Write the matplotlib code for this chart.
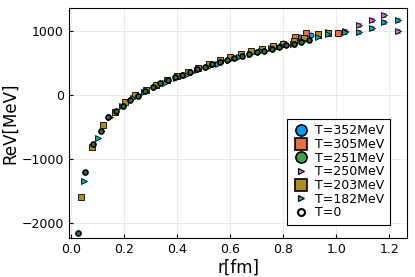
import matplotlib

matplotlib.use("Agg")
import matplotlib.pyplot as plt
from matplotlib.lines import Line2D

# T=0 (also underlies T=251MeV)
r_t0 = [0.026, 0.054, 0.083, 0.112, 0.140, 0.168, 0.196, 0.224, 0.252, 0.280, 0.308,
        0.336, 0.364, 0.392, 0.420, 0.448, 0.476, 0.504, 0.532, 0.560, 0.588, 0.616,
        0.644, 0.672, 0.700, 0.728, 0.756, 0.784, 0.812, 0.840, 0.868, 0.896]
v_t0 = [-2150, -1198, -770, -558, -350, -255, -175, -75, -20, 60, 130, 185, 235, 275,
        320, 360, 400, 440, 480, 515, 550, 580, 610, 640, 665, 695, 720, 745, 775, 800,
        830, 860]

r_203 = [0.039, 0.079, 0.121, 0.165, 0.203, 0.243, 0.282, 0.320, 0.360, 0.400, 0.440,
         0.480, 0.520, 0.560, 0.600, 0.640, 0.680, 0.720, 0.760, 0.800, 0.840, 0.880,
         0.930, 0.970]
v_203 = [-1589, -817, -469, -261, -114, 0, 85, 160, 235, 295, 365, 420, 480, 540, 590,
         645, 685, 725, 760, 800, 850, 890, 960, 975]

r_182 = [0.048, 0.102, 0.146, 0.192, 0.235, 0.275, 0.315, 0.355, 0.395, 0.435, 0.475,
         0.515, 0.555, 0.595, 0.635, 0.675, 0.715, 0.755, 0.795, 0.835, 0.875, 0.932,
         0.970, 1.033, 1.086, 1.134, 1.181, 1.232]
v_182 = [-1350, -677, -348, -172, -40, 50, 125, 190, 260, 315, 385, 430, 490, 550, 600,
         640, 690, 730, 770, 800, 850, 911, 960, 980, 984, 1047, 1141, 1177]
e_182 = [0] * 21 + [25, 25, 25, 30, 30, 30, 30]

r_250 = [0.970, 1.033, 1.086, 1.134, 1.181, 1.232]
v_250 = [985, 1000, 1099, 1167, 1245, 1005]
e_250 = [25, 25, 30, 30, 30, 30]

r_305 = [0.844, 0.886, 0.932, 1.007]
v_305 = [911, 964, 940, 970]
e_305 = [25, 25, 30, 40]

r_352 = [0.800, 0.840, 0.863, 0.905]
v_352 = [815, 850, 900, 930]

labels = ["T=352MeV", "T=305MeV", "T=251MeV", "T=250MeV", "T=203MeV", "T=182MeV", "T=0"]
colors = ["#009AFA", "#E36F47", "#3EA44E", "#C371D2", "#AC8E18", "#00A9AD", "white"]

fig = plt.figure(figsize=(4.15, 2.77), dpi=100)
ax = fig.add_axes([0.166, 0.141, 0.815, 0.830])

kw = dict(linestyle="none", markeredgecolor="black", markeredgewidth=0.6)
ax.errorbar(r_352, v_352, fmt="o", ms=3.6, color=colors[0], zorder=3, **kw)
ax.errorbar(r_305, v_305, yerr=e_305, fmt="s", ms=3.8, color=colors[1], ecolor="#555555",
            elinewidth=0.6, capsize=1.5, zorder=3, **kw)
ax.errorbar(r_t0, v_t0, fmt="o", ms=3.6, color="#2f6e3a", zorder=4, **kw)
ax.errorbar(r_250, v_250, yerr=e_250, fmt=">", ms=4.0, color=colors[3], ecolor="#555555",
            elinewidth=0.6, capsize=1.5, zorder=3, **kw)
ax.errorbar(r_203, v_203, fmt="s", ms=3.8, color=colors[4], zorder=3, **kw)
ax.errorbar(r_182, v_182, yerr=e_182, fmt=">", ms=4.0, color=colors[5], ecolor="#555555",
            elinewidth=0.6, capsize=1.5, zorder=3, **kw)
ax.plot(r_t0, v_t0, "o", ms=3.6, mfc="none", mec="black", mew=1.1, zorder=5)

ax.set_xlim(-0.008, 1.267)
ax.set_ylim(-2234, 1359)
ax.set_xticks([0.0, 0.2, 0.4, 0.6, 0.8, 1.0, 1.2])
ax.set_yticks([-2000, -1000, 0, 1000])
ax.grid(True, color="#e6e6e6", linewidth=0.6)
ax.set_axisbelow(True)
ax.tick_params(direction="in", length=3, labelsize=9, colors="black")
for s in ax.spines.values():
    s.set_linewidth(0.8)
ax.set_xlabel("r[fm]", fontsize=12, labelpad=2)
ax.set_ylabel("ReV[MeV]", fontsize=12, labelpad=2)

handles = [
    Line2D([], [], marker="o", ls="none", ms=8, mfc=colors[0], mec="black", mew=1.2),
    Line2D([], [], marker="s", ls="none", ms=9, mfc=colors[1], mec="black", mew=1.2),
    Line2D([], [], marker="o", ls="none", ms=8, mfc=colors[2], mec="black", mew=1.2),
    Line2D([], [], marker=">", ls="none", ms=5, mfc=colors[3], mec="black", mew=0.8),
    Line2D([], [], marker="s", ls="none", ms=9, mfc=colors[4], mec="black", mew=1.2),
    Line2D([], [], marker=">", ls="none", ms=5, mfc=colors[5], mec="black", mew=0.8),
    Line2D([], [], marker="o", ls="none", ms=5, mfc="white", mec="black", mew=1.5),
]
leg = ax.legend(handles, labels, loc="lower right", bbox_to_anchor=(0.967, 0.03),
                fontsize=9, fancybox=False, framealpha=1, edgecolor="black",
                labelspacing=0.05, handletextpad=0.4, borderpad=0.45, handlelength=1.4)
leg.get_frame().set_linewidth(0.8)

fig.savefig("out.png", dpi=100)
